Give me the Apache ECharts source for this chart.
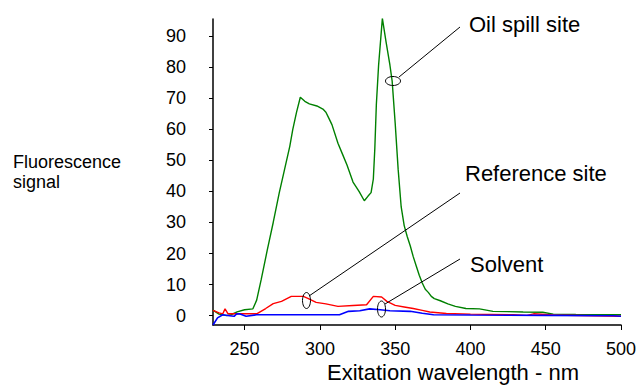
<!DOCTYPE html>
<html><head><meta charset="utf-8">
<script src="https://cdn.jsdelivr.net/npm/echarts@6/dist/echarts.min.js"></script>
<style>html,body{margin:0;padding:0;background:#fff}#c{width:641px;height:392px}</style>
</head><body><div id="c"></div>
<script>
// Wavelength (nm) and fluorescence signal
const oilX = [229,233,238,241,245,250,255.5,258,261,265,269,273,276.5,280,282,284.5,287,290,293,298,302,304,306,308,312,315,318,322,326,329.5,332,334,335.5,336.5,337.5,339,341.5,344,346.5,348,350,352,354,356,358,360,362,364,366,368,370,372,374,376,380,385,390,397,406,415,425,435,448,455,470,500];
const oilY = [1.8,0.5,0.0,0.3,1.2,1.9,2.2,5,11.6,21,30,39.5,47,54.5,60,65.5,70.3,69,68.2,67.5,66.5,65.5,63.5,61.5,55.5,52,48.5,43,40,37,38.5,39.6,44,54,68,80.7,95.7,88,80.7,75.5,62,47,35,29,25.5,22.5,19,16,13,10.5,8.5,7.5,6.2,5.5,4.8,3.8,3.0,2.3,2.2,1.4,1.3,1.2,1.1,0.5,0.4,0.3];

const refX = [229,233,235.5,237,239,245,258,264,269,274.5,281,289,292,297.5,304,312,322,331,335.5,341,344.5,350,356,362,368,373,384,400,428.5,437.5,442,455,500];
const refY = [1.7,0.9,0.6,2.2,0.6,0.6,0.6,2.3,3.9,4.6,6.2,6.2,5.6,4.3,3.8,3.0,3.3,3.5,6.2,6.0,4.6,3.3,2.8,2.3,1.7,1.2,0.7,0.5,0.3,0.1,0.6,0.2,-0.2];

const solX = [229,232,235.5,240,243,244.5,246.5,251,258,275,300,313,319,326.5,333,340,346.5,360,368,375.5,400,450,495,500];
const solY = [-3,-0.7,0.3,0,-0.2,0.5,0.6,-0.2,0.3,0.3,0.3,0.3,1.4,1.6,2.2,1.9,1.6,1.4,0.8,0.3,0.2,0.1,0,-0.2];

const xRange = [229, 500];
const yRange = [-3, 95.5];

const xTitle = 'Exitation wavelength - nm';
const yTitle = ['Fluorescence', 'signal'];
const labels = ['Oil spill site', 'Reference site', 'Solvent'];

const FONT = '"Liberation Sans", Arial, sans-serif';
const pair = (xs, ys) => xs.map((x, i) => [x, ys[i]]);
const chart = echarts.init(document.getElementById('c'), null, {renderer: 'svg'});

function txt(text, x, y, size, align) {
  return {type: 'text', x: x, y: y, silent: true,
    style: {text: text, fontSize: size, fontFamily: FONT, fill: '#000', align: align || 'left', verticalAlign: 'middle'}};
}
function seg(x1, y1, x2, y2, w) {
  return {type: 'line', silent: true, z: 10, shape: {x1: x1, y1: y1, x2: x2, y2: y2}, style: {stroke: '#000', lineWidth: w || 1}};
}
function ell(cx, cy, rx, ry) {
  return {type: 'ellipse', silent: true, z: 10, shape: {cx: cx, cy: cy, rx: rx, ry: ry}, style: {stroke: '#000', fill: 'none', lineWidth: 1}};
}

const option = {
  animation: false,
  backgroundColor: '#fff',
  grid: {left: 213, right: 20, top: 19, bottom: 67, containLabel: false},
  xAxis: {
    type: 'value', min: xRange[0], max: xRange[1], splitNumber: 5,
    axisLine: {show: true, onZero: false, lineStyle: {color: '#000000', width: 1.5, opacity: 1}},
    axisTick: {show: true, length: 5, lineStyle: {color: '#000000', width: 1}},
    axisLabel: {showMinLabel: false, color: '#000', fontSize: 18, fontFamily: FONT, margin: 15,
      formatter: v => (Math.abs(v % 50) < 1e-6 ? String(v) : '')},
    splitLine: {show: false}
  },
  yAxis: {
    type: 'value', min: yRange[0], max: yRange[1], splitNumber: 10,
    axisLine: {show: true, onZero: false, lineStyle: {color: '#000000', width: 1.5, opacity: 1}},
    axisTick: {show: true, length: 4, lineStyle: {color: '#000000', width: 1}},
    axisLabel: {showMinLabel: false, showMaxLabel: false, color: '#000', fontSize: 18, fontFamily: FONT, margin: 27,
      formatter: v => (Math.abs(v % 10) < 1e-6 ? String(v) : '')},
    splitLine: {show: false}
  },
  series: [
    {type: 'line', data: pair(oilX, oilY), symbol: 'none', lineStyle: {color: '#008000', width: 1.4}, z: 2},
    {type: 'line', data: pair(refX, refY), symbol: 'none', lineStyle: {color: '#ff0000', width: 1.4}, z: 3},
    {type: 'line', data: pair(solX, solY), symbol: 'none', lineStyle: {color: '#0000ff', width: 1.6}, z: 4}
  ],
  graphic: [
    txt(yTitle[0], 13, 162, 18),
    txt(yTitle[1], 13, 182, 18),
    txt(xTitle, 453, 372, 22, 'center'),
    txt(labels[0], 469, 24, 22),
    txt(labels[1], 465, 173, 22),
    txt(labels[2], 470, 264, 22),
    seg(460, 27, 399, 77), ell(393, 81, 7.5, 4.5),
    seg(460, 193, 309, 296), ell(306.5, 300.5, 4, 8),
    seg(460, 259, 385, 304), ell(381.5, 309, 4, 8)
  ]
};
chart.setOption(option);
</script>
</body></html>
